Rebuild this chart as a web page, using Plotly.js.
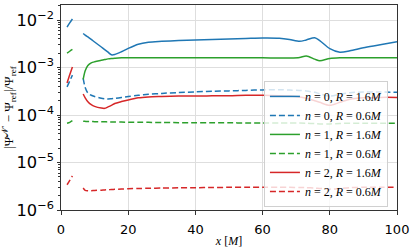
<!DOCTYPE html>
<html>
<head>
<meta charset="utf-8">
<script src="https://cdn.plot.ly/plotly-3.0.1.min.js"></script>
<style>html,body{margin:0;padding:0;background:#fff;}#chart{width:415px;height:249px;}</style>
</head>
<body>
<div id="chart"></div>
<script>
// x grid (null separates the two computed segments)
const xGrid = [1.8, 2.6, 3.4, null,
  6.6, 7.2, 8, 9, 10, 12, 13, 14, 15, 16, 18, 20, 23, 26, 30, 35, 40, 45, 50, 55, 60, 65, 68, 71, 73, 75.5, 77, 80, 83, 86, 90, 95, 100];

const n0R16 = [7.1e-3, 8.7e-3, 1.05e-2, null,
  5.2e-3, 4.8e-3, 4.4e-3, 3.9e-3, 3.44e-3, 2.7e-3, 2.38e-3, 2.1e-3, 1.85e-3, 1.88e-3, 2.15e-3, 2.53e-3, 3.1e-3, 3.4e-3, 3.55e-3, 3.7e-3, 3.8e-3, 3.9e-3, 4.0e-3, 4.1e-3, 4.2e-3, 4.15e-3, 3.9e-3, 3.55e-3, 3.8e-3, 4.25e-3, 3.7e-3, 2.5e-3, 2.1e-3, 2.25e-3, 2.6e-3, 3.0e-3, 3.5e-3];

const n0R06 = [3.9e-4, 5.2e-4, 6.9e-4, null,
  5.9e-4, 3.8e-4, 2.9e-4, 2.6e-4, 2.45e-4, 2.25e-4, 2.2e-4, 2.18e-4, 2.2e-4, 2.23e-4, 2.33e-4, 2.45e-4, 2.6e-4, 2.72e-4, 2.85e-4, 2.97e-4, 3.07e-4, 3.15e-4, 3.22e-4, 3.3e-4, 3.38e-4, 3.4e-4, 3.35e-4, 3.3e-4, 3.2e-4, 3.0e-4, 2.8e-4, 2.5e-4, 2.75e-4, 2.95e-4, 3.05e-4, 3.05e-4, 3.0e-4];

const n1R16 = [2.0e-3, 2.2e-3, 2.4e-3, null,
  5.6e-4, 8.5e-4, 1.1e-3, 1.25e-3, 1.32e-3, 1.42e-3, 1.47e-3, 1.52e-3, 1.55e-3, 1.57e-3, 1.6e-3, 1.6e-3, 1.6e-3, 1.6e-3, 1.6e-3, 1.6e-3, 1.6e-3, 1.6e-3, 1.6e-3, 1.6e-3, 1.6e-3, 1.58e-3, 1.58e-3, 1.62e-3, 1.75e-3, 1.5e-3, 1.38e-3, 1.55e-3, 1.6e-3, 1.6e-3, 1.6e-3, 1.6e-3, 1.6e-3];

const n1R06 = [6.7e-5, 7.0e-5, 7.6e-5, null,
  7.4e-5, 7.35e-5, 7.3e-5, 7.3e-5, 7.25e-5, 7.2e-5, 7.2e-5, 7.15e-5, 7.15e-5, 7.1e-5, 7.1e-5, 7.05e-5, 7.0e-5, 7.0e-5, 6.95e-5, 6.9e-5, 6.9e-5, 6.85e-5, 6.85e-5, 6.8e-5, 6.8e-5, 6.75e-5, 6.75e-5, 6.75e-5, 6.7e-5, 6.6e-5, 6.5e-5, 6.5e-5, 6.65e-5, 6.7e-5, 6.7e-5, 6.7e-5, 6.7e-5];

const n2R16 = [4.7e-4, 7.0e-4, 1.02e-3, null,
  2.77e-4, 2.3e-4, 1.9e-4, 1.65e-4, 1.52e-4, 1.4e-4, 1.38e-4, 1.48e-4, 1.6e-4, 1.75e-4, 1.92e-4, 2.08e-4, 2.3e-4, 2.4e-4, 2.45e-4, 2.5e-4, 2.5e-4, 2.55e-4, 2.55e-4, 2.6e-4, 2.6e-4, 2.55e-4, 2.5e-4, 2.4e-4, 2.25e-4, 2.0e-4, 1.85e-4, 1.6e-4, 1.85e-4, 2.15e-4, 2.3e-4, 2.35e-4, 2.35e-4];

const n2R06 = [3.4e-6, 4.2e-6, 5.2e-6, null,
  2.9e-6, 2.6e-6, 2.55e-6, 2.55e-6, 2.58e-6, 2.62e-6, 2.65e-6, 2.67e-6, 2.7e-6, 2.72e-6, 2.76e-6, 2.8e-6, 2.84e-6, 2.87e-6, 2.9e-6, 2.93e-6, 2.95e-6, 2.97e-6, 3.0e-6, 3.0e-6, 3.0e-6, 3.0e-6, 3.0e-6, 2.98e-6, 2.95e-6, 2.9e-6, 2.85e-6, 2.75e-6, 2.85e-6, 2.95e-6, 3.0e-6, 3.0e-6, 3.0e-6];

const seriesNames = [
  '<i>n</i> = 0, <i>R</i> = 1.6<i>M</i>',
  '<i>n</i> = 0, <i>R</i> = 0.6<i>M</i>',
  '<i>n</i> = 1, <i>R</i> = 1.6<i>M</i>',
  '<i>n</i> = 1, <i>R</i> = 0.6<i>M</i>',
  '<i>n</i> = 2, <i>R</i> = 1.6<i>M</i>',
  '<i>n</i> = 2, <i>R</i> = 0.6<i>M</i>'
];
const seriesValues = [n0R16, n0R06, n1R16, n1R06, n2R16, n2R06];
const colors = ['#1f77b4', '#1f77b4', '#2ca02c', '#2ca02c', '#d62728', '#d62728'];
const dashes = ['solid', '6px,3px', 'solid', '6px,3px', 'solid', '6px,3px'];

const traces = seriesValues.map((v, i) => ({
  x: xGrid, y: v, type: 'scatter', mode: 'lines', name: seriesNames[i],
  connectgaps: false,
  line: {color: colors[i], width: 1.5, dash: dashes[i], shape: 'spline', smoothing: 0.8}
}));

const layout = {
  width: 415, height: 249,
  margin: {l: 61, r: 18, t: 5, b: 39},
  paper_bgcolor: '#fff', plot_bgcolor: '#fff',
  font: {family: 'DejaVu Sans', size: 12, color: '#000'},
  showlegend: true,
  legend: {
    x: 0.604, y: 0.015, xanchor: 'left', yanchor: 'bottom',
    bgcolor: 'rgba(255,255,255,0.8)', bordercolor: '#d0d0d0', borderwidth: 1,
    font: {family: 'Liberation Serif', size: 12, color: '#000'}
  },
  xaxis: {
    range: [0, 100], dtick: 20, tick0: 0,
    showline: true, mirror: true, linecolor: '#333', linewidth: 1,
    ticks: 'outside', ticklen: 3.5, tickcolor: '#333',
    showgrid: true, gridcolor: '#dedede', gridwidth: 1, zeroline: false,
    tickfont: {family: 'DejaVu Sans', size: 13}, ticklabelstandoff: 4,
    title: {text: '<i>x</i> [<i>M</i>]', font: {family: 'Liberation Serif', size: 12}, standoff: 0}
  },
  yaxis: {
    type: 'log', range: [-6, -1.684], dtick: 1, exponentformat: 'power',
    showline: true, mirror: true, linecolor: '#333', linewidth: 1,
    ticks: 'outside', ticklen: 3.5, tickcolor: '#333',
    showgrid: true, gridcolor: '#dedede', gridwidth: 1, zeroline: false,
    tickfont: {family: 'DejaVu Sans', size: 13},
    minor: {ticks: 'outside', ticklen: 2, tickcolor: '#333', dtick: 'D1', showgrid: false},
    title: {text: '|\u03A8<sup>\uD835\uDCA9\u2032</sup> \u2212 \u03A8<sub>ref</sub>|/\u03A8<sub>ref</sub>', font: {family: 'Liberation Serif', size: 13}, standoff: 4}
  }
};

Plotly.newPlot('chart', traces, layout, {displayModeBar: false, staticPlot: true});
</script>
</body>
</html>
